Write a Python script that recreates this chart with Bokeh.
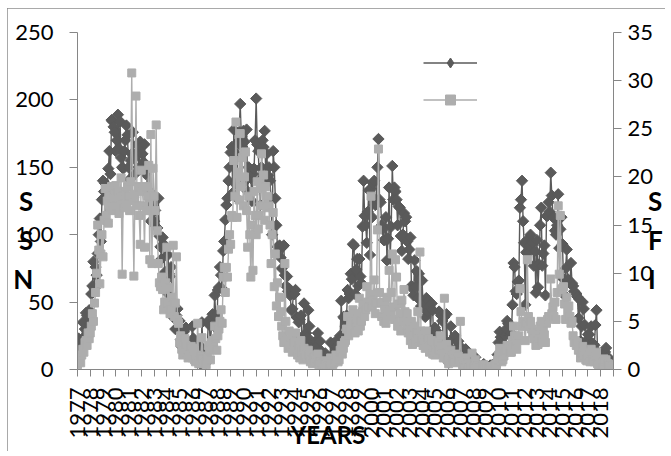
import numpy as np
from bokeh.plotting import figure
from bokeh.models import Range1d, LinearAxis, FixedTicker, Legend, LegendItem
from bokeh.embed import file_html
from bokeh.resources import INLINE

# ---------------- data (monthly values, Jan 1977 .. Dec 2018) ----------------
first_year = 1977
tick_years = list(range(1977, 2020))
label_years = list(range(1977, 2019))
left_ticks = [0, 50, 100, 150, 200, 250]
right_ticks = [0, 5, 10, 15, 20, 25, 30, 35]

ssn_1977_1979 = [
    18, 23, 20, 15, 21, 35, 24, 30, 42, 40, 31, 44,
    40, 56, 62, 80, 60, 76, 70, 86, 100, 112, 95, 126,
    140, 132, 138, 110, 134, 149, 162, 145, 185, 184, 180, 176,
]
ssn_1980s = [
    162, 170, 189, 164, 184, 157, 150, 149, 162, 170, 181, 174,
    150, 141, 155, 160, 176, 159, 145, 158, 167, 162, 150, 169,
    165, 160, 154, 167, 145, 150, 120, 149, 132, 110, 118, 127,
    110, 118, 127, 105, 127, 99, 91, 82, 98, 93, 72, 66,
    57, 85, 71, 69, 76, 46, 45, 38, 30, 40, 45, 36,
    36, 22, 17, 16, 28, 30, 31, 18, 12, 19, 16, 20,
    32, 23, 15, 18, 14, 5, 18, 7, 4, 35, 15, 7,
    10, 5, 15, 36, 33, 17, 33, 41, 34, 55, 40, 30,
    59, 61, 76, 70, 60, 88, 95, 111, 122, 127, 140, 150,
    161, 165, 131, 178, 138, 160, 127, 169, 176, 197, 173, 165,
]
ssn_1990s = [
    177, 169, 140, 178, 132, 150, 149, 142, 125, 145, 149, 170,
    201, 167, 162, 140, 122, 150, 170, 165, 177, 144, 160, 144,
    150, 140, 127, 100, 162, 150, 127, 107, 91, 89, 92, 83,
    75, 91, 92, 70, 62, 69, 58, 60, 55, 44, 45, 56,
    56, 59, 39, 38, 35, 37, 40, 24, 23, 49, 21, 27,
    24, 44, 32, 17, 14, 16, 20, 12, 21, 17, 27, 13,
    21, 4, 13, 8, 11, 12, 10, 8, 2, 2, 20, 10,
    19, 8, 12, 21, 17, 10, 11, 25, 51, 24, 39, 38,
    32, 40, 59, 53, 56, 71, 67, 93, 92, 56, 74, 82,
    62, 82, 69, 64, 106, 140, 114, 107, 94, 117, 133, 85,
]
ssn_2000s = [
    134, 113, 138, 140, 122, 126, 150, 171, 126, 124, 107, 104,
    96, 96, 113, 81, 97, 135, 82, 106, 151, 126, 135, 132,
    126, 107, 121, 120, 99, 88, 100, 116, 110, 113, 95, 82,
    89, 98, 62, 60, 55, 81, 61, 73, 53, 71, 67, 47,
    66, 46, 49, 39, 53, 43, 51, 47, 28, 49, 44, 18,
    31, 29, 25, 24, 43, 42, 40, 36, 22, 39, 18, 41,
    15, 5, 11, 32, 22, 14, 12, 25, 14, 11, 21, 14,
    17, 11, 5, 4, 12, 15, 10, 6, 2, 1, 2, 10,
    3, 2, 9, 3, 3, 3, 1, 1, 1, 3, 4, 1,
    2, 1, 1, 1, 3, 3, 3, 0, 4, 5, 4, 11,
]
ssn_2010s = [
    20, 28, 24, 10, 14, 19, 25, 30, 36, 34, 34, 25,
    27, 48, 79, 76, 58, 56, 65, 66, 120, 126, 140, 110,
    94, 48, 87, 86, 97, 92, 100, 95, 94, 77, 88, 57,
    96, 61, 78, 107, 120, 77, 86, 92, 55, 114, 114, 124,
    117, 146, 129, 113, 113, 103, 100, 107, 130, 90, 104, 113,
    93, 67, 55, 75, 89, 67, 66, 64, 79, 64, 62, 58,
    57, 56, 54, 38, 52, 21, 32, 50, 45, 33, 21, 19,
    26, 26, 18, 32, 19, 19, 18, 33, 44, 13, 6, 8,
    7, 11, 3, 9, 13, 16, 2, 9, 3, 5, 5, 3,
]

sfi_1977_1979 = [
    0.5, 0.8, 1.2, 0.7, 1.5, 2.1, 1.8, 2.8, 3.0, 2.5, 3.8, 3.2,
    3.8, 4.5, 5.8, 5.0, 6.9, 8.0, 10.0, 15.0, 12.4, 8.9, 12.0, 14.0,
    11.7, 15.5, 18.8, 16.0, 17.5, 15.2, 18.0, 17.0, 19.0, 16.5, 18.2, 17.8,
]
sfi_1980s = [
    19.1, 17.0, 18.5, 16.2, 17.8, 19.9, 9.9, 18.0, 16.8, 18.5, 17.2, 19.0,
    18.0, 16.5, 19.5, 30.8, 17.5, 9.7, 18.2, 28.4, 17.0, 19.0, 16.0, 13.0,
    20.7, 18.5, 17.0, 12.7, 19.0, 16.5, 18.0, 21.2, 11.4, 24.4, 11.0, 20.9,
    18.0, 16.5, 25.4, 14.4, 11.0, 9.0, 8.6, 9.6, 8.3, 6.2, 7.0, 9.0,
    12.7, 6.9, 8.5, 5.8, 6.2, 7.5, 12.9, 5.5, 6.9, 11.7, 5.2, 4.8,
    2.8, 3.5, 2.1, 1.5, 2.8, 3.2, 2.5, 1.8, 1.2, 2.0, 1.6, 2.4,
    1.2, 2.2, 1.0, 0.8, 1.5, 4.8, 0.6, 0.9, 1.4, 3.3, 1.1, 0.7,
    0.8, 0.5, 1.2, 2.5, 2.0, 1.0, 2.8, 3.0, 2.2, 4.5, 3.2, 2.0,
    3.5, 4.2, 5.0, 6.2, 4.8, 9.6, 10.6, 8.0, 10.6, 9.6, 12.5, 14.0,
    13.0, 16.0, 15.8, 21.7, 18.0, 25.7, 15.8, 20.5, 17.6, 24.5, 19.0, 22.0,
]
sfi_1990s = [
    17.0, 20.0, 22.6, 16.5, 12.7, 18.0, 14.0, 9.6, 15.0, 10.3, 18.5, 16.0,
    14.0, 19.5, 14.6, 16.0, 18.8, 22.4, 17.0, 20.2, 15.5, 19.0, 16.8, 18.0,
    17.0, 15.0, 11.0, 14.0, 16.3, 8.6, 12.0, 6.6, 9.0, 5.5, 7.5, 6.0,
    4.5, 3.5, 2.8, 11.0, 5.0, 3.0, 2.2, 4.0, 2.5, 3.3, 1.8, 2.6,
    2.8, 3.8, 2.0, 1.5, 2.5, 1.2, 3.0, 1.8, 1.0, 2.2, 1.4, 1.6,
    1.2, 2.0, 1.5, 0.8, 1.0, 0.6, 1.3, 0.9, 0.7, 1.1, 1.6, 0.5,
    0.8, 0.5, 0.7, 0.4, 0.6, 0.9, 0.5, 0.3, 0.4, 0.2, 1.2, 0.6,
    0.5, 0.7, 0.9, 1.5, 1.2, 0.8, 1.0, 2.0, 2.5, 1.6, 2.2, 2.8,
    3.0, 4.2, 5.5, 3.5, 4.0, 5.0, 4.6, 6.2, 5.8, 3.8, 4.8, 5.2,
    4.0, 7.4, 4.5, 5.0, 6.0, 6.8, 5.5, 6.2, 8.6, 7.0, 6.5, 7.8,
]
sfi_2000s = [
    18.0, 6.5, 7.2, 9.3, 5.8, 6.9, 14.5, 22.9, 8.0, 6.9, 5.5, 7.0,
    5.0, 6.2, 4.8, 7.5, 5.5, 10.3, 6.0, 8.0, 12.0, 6.5, 5.2, 11.4,
    9.6, 4.5, 6.8, 5.8, 4.0, 7.2, 5.0, 8.3, 6.0, 4.6, 5.8, 3.8,
    4.2, 3.0, 5.0, 2.6, 3.5, 4.5, 2.8, 3.8, 6.0, 3.2, 12.2, 4.0,
    3.0, 2.5, 3.6, 2.2, 4.0, 2.8, 3.2, 1.8, 2.5, 3.0, 1.6, 2.0,
    1.5, 2.2, 1.8, 2.8, 2.0, 3.5, 2.4, 1.6, 1.2, 7.4, 1.5, 2.6,
    1.0, 0.6, 1.2, 2.0, 1.5, 1.0, 0.8, 1.6, 1.1, 0.7, 1.4, 0.9,
    5.0, 0.8, 0.5, 0.4, 1.0, 1.2, 0.7, 0.5, 0.3, 0.2, 0.3, 1.7,
    0.4, 0.3, 1.0, 0.4, 0.3, 0.4, 0.2, 0.2, 0.2, 0.3, 0.5, 0.2,
    0.2, 0.2, 0.1, 0.1, 0.3, 0.3, 0.3, 0.1, 0.4, 0.5, 0.5, 1.0,
]
sfi_2010s = [
    1.5, 2.2, 1.8, 0.8, 1.0, 1.4, 1.8, 2.0, 2.5, 2.2, 2.4, 1.8,
    1.8, 3.0, 4.5, 3.5, 2.5, 2.1, 3.0, 3.5, 8.4, 6.0, 4.5, 5.0,
    4.5, 3.0, 4.8, 11.4, 5.5, 4.5, 5.0, 4.2, 3.8, 3.2, 4.0, 2.5,
    3.8, 2.6, 3.2, 4.5, 5.0, 3.0, 4.2, 3.6, 2.8, 4.8, 5.2, 5.5,
    5.5, 9.4, 5.8, 6.5, 5.5, 7.0, 5.2, 8.0, 17.0, 9.9, 16.0, 8.3,
    8.4, 8.6, 6.8, 5.2, 7.5, 6.0, 6.6, 5.5, 4.8, 5.0, 3.5, 2.8,
    3.0, 2.5, 2.8, 2.0, 2.2, 1.2, 1.7, 2.4, 1.8, 1.5, 1.0, 0.9,
    1.2, 1.5, 0.8, 2.1, 1.0, 0.9, 0.8, 1.4, 1.8, 0.6, 0.4, 0.5,
    0.5, 0.7, 0.3, 1.1, 0.8, 1.0, 0.3, 0.6, 0.4, 0.5, 0.4, 0.3,
]

ssn = ssn_1977_1979 + ssn_1980s + ssn_1990s + ssn_2000s + ssn_2010s
sfi = sfi_1977_1979 + sfi_1980s + sfi_1990s + sfi_2000s + sfi_2010s
months = [first_year + i / 12.0 for i in range(len(ssn))]

# ---------------- style ----------------
DARK = "#5a5a5a"
LIGHT = "#adadad"
AXIS = "#868686"
FONT = "Lato"

W, H = 658, 443
BL, BR, BT, BB = 70, 47, 24, 77   # frame borders inside the figure

p = figure(width=W, height=H, output_backend="svg", toolbar_location=None,
           x_range=Range1d(1977, 2019), y_range=Range1d(0, 250),
           min_border_left=BL, min_border_right=BR, min_border_top=BT, min_border_bottom=BB,
           background_fill_color="white", border_fill_color="white")
p.styles = {"margin-left": "7px", "margin-top": "8px",
            "outline": "1px solid #8c8c8c", "outline-offset": "-1px"}
p.extra_y_ranges = {"sfi": Range1d(0, 35)}
p.grid.visible = False
p.outline_line_color = None


def style_axis(ax, tick_out, standoff):
    ax.axis_line_color = AXIS
    ax.axis_line_width = 1
    ax.major_tick_line_color = AXIS
    ax.major_tick_in = 0
    ax.major_tick_out = tick_out
    ax.minor_tick_line_color = None
    ax.major_label_text_font = FONT
    ax.major_label_text_font_size = "22px"
    ax.major_label_text_color = "black"
    ax.major_label_standoff = standoff


def style_title(ax, text, size, standoff):
    ax.axis_label = text
    ax.axis_label_text_font = FONT
    ax.axis_label_text_font_style = "bold"
    ax.axis_label_text_font_size = size
    ax.axis_label_text_color = "black"
    ax.axis_label_standoff = standoff


xa = p.xaxis[0]
xa.ticker = FixedTicker(ticks=tick_years)
xa.major_label_overrides = {y: str(y) for y in label_years}
xa.major_label_overrides[tick_years[-1]] = ""
xa.major_label_orientation = np.pi / 2
style_axis(xa, 7, 11)
style_title(xa, "YEARS" + "\u00a0" * 6, "24px", -22)

ya = p.yaxis[0]
ya.ticker = FixedTicker(ticks=left_ticks)
style_axis(ya, 8, 16)
style_title(ya, "\n\nS\nS\nN", "26px", -21)
ya.axis_label_orientation = "horizontal"
ya.axis_label_text_line_height = 1.22
ya.axis_label_text_align = "center"

ra = LinearAxis(y_range_name="sfi", ticker=FixedTicker(ticks=right_ticks))
style_axis(ra, 8, 6)
style_title(ra, "\n\nS\nF\nI", "26px", -8)
ra.axis_label_orientation = "horizontal"
ra.axis_label_text_line_height = 1.22
ra.axis_label_text_align = "center"
p.add_layout(ra, "right")

# ---------------- series ----------------
l1 = p.line(months, ssn, line_color=DARK, line_width=1.4)
s1 = p.scatter(months, ssn, marker="square", angle=np.pi / 4, size=8,
               fill_color=DARK, line_color=DARK)
l2 = p.line(months, sfi, line_color=LIGHT, line_width=1.4, y_range_name="sfi")
s2 = p.scatter(months, sfi, marker="square", size=8, fill_color=LIGHT,
               line_color=LIGHT, y_range_name="sfi")
# legend-only diamond swatch (no visible point in the plot)
s1_key = p.scatter([np.nan], [np.nan], marker="diamond", size=10,
                   fill_color=DARK, line_color=DARK)

legend = Legend(items=[LegendItem(label=" ", renderers=[l1, s1_key]),
                       LegendItem(label=" ", renderers=[l2, s2])],
                location=(346, 257), glyph_width=54, glyph_height=25,
                label_height=25, spacing=12, padding=0, margin=0,
                label_standoff=0, border_line_color=None,
                background_fill_alpha=0)
p.add_layout(legend)

open("out.html", "w").write(file_html(p, INLINE))
